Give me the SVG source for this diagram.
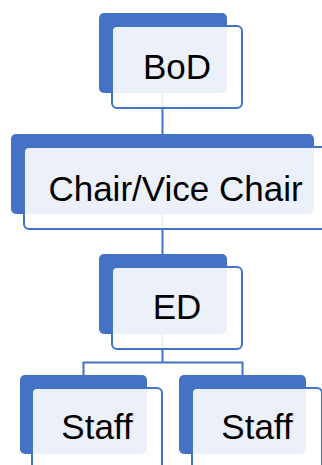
<svg xmlns="http://www.w3.org/2000/svg" width="322" height="465" viewBox="0 0 322 465">
<style>
.back{fill:#4472C4}
.front{fill:#FFFFFF;fill-opacity:0.9;stroke:#4472C4;stroke-width:2}
.conn{fill:none;stroke:#4472C4;stroke-width:2}
.lbl{font-family:"Liberation Sans",Arial,sans-serif;font-size:35px;fill:#000;text-anchor:middle}
</style>
<rect width="322" height="465" fill="#FFFFFF"/>
<g id="connectors">
<path class="conn" d="M162.5 93V134"/>
<path class="conn" d="M162.5 214V254"/>
<path class="conn" d="M162.5 334V362.5H83.5V375M162.5 362.5H242.5V375"/>
</g>
<g id="bod">
<rect class="back" x="99" y="13" width="128" height="80" rx="5"/>
<rect class="front" x="112" y="26" width="130" height="82" rx="5"/>
<text class="lbl" x="177" y="79">BoD</text>
</g>
<g id="chair">
<rect class="back" x="11" y="134" width="303" height="80" rx="5"/>
<rect class="front" x="24" y="147" width="305" height="82" rx="5"/>
<text class="lbl" x="175.5" y="201">Chair/Vice Chair</text>
</g>
<g id="ed">
<rect class="back" x="99" y="254" width="128" height="80" rx="5"/>
<rect class="front" x="112" y="267" width="130" height="82" rx="5"/>
<text class="lbl" x="177" y="319">ED</text>
</g>
<g id="staff1">
<rect class="back" x="20" y="375" width="127" height="79" rx="5"/>
<rect class="front" x="32" y="388" width="130" height="82" rx="5"/>
<text class="lbl" x="97" y="439">Staff</text>
</g>
<g id="staff2">
<rect class="back" x="179" y="375" width="127" height="79" rx="5"/>
<rect class="front" x="192" y="388" width="130" height="82" rx="5"/>
<text class="lbl" x="257" y="439">Staff</text>
</g>
</svg>
